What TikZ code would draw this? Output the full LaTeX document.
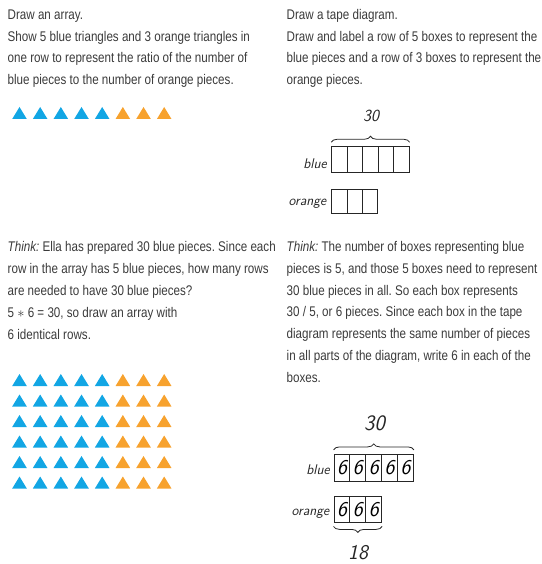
\documentclass[tikz,border=0pt]{standalone}
\usepackage{fontspec}
\setmainfont{Liberation Sans}[FakeStretch=0.83]
\usetikzlibrary{decorations.pathreplacing}
\frenchspacing

\definecolor{triblue}{RGB}{18,166,228}
\definecolor{triorange}{RGB}{247,162,46}
\definecolor{inkgray}{RGB}{58,58,58}

\tikzset{
  txt/.style={anchor=base west, inner sep=0, text=inkgray, font=\fontsize{14}{16}\selectfont},
  hand/.style={inner sep=0, text=black!85, font=\fontsize{14}{14}\selectfont\sffamily\itshape},
  cell/.style={draw=black!85, line width=0.9pt, inner sep=0, minimum width=15.5pt, minimum height=26pt,
    font=\fontsize{21}{21}\selectfont\sffamily\itshape},
  tapebrace/.style={decorate, decoration={brace, amplitude=6pt, raise=4pt}, draw=black!85, line width=0.8pt}
}

\begin{document}
\begin{tikzpicture}[x=1pt, y=-1pt]
  \useasboundingbox (0,0) rectangle (541,564);

  % instructions, one node per printed line
  \foreach \y/\t [count=\i] in {19.5/Draw an array., 41.5/Show 5 blue triangles and 3 orange triangles in,
      63/one row to represent the ratio of the number of, 84.5/blue pieces to the number of orange pieces.} {
    \node[txt] (tl\i) at (7.5,\y) {\t};
  }
  \foreach \y/\t [count=\i] in {19.5/Draw a tape diagram., 41.5/Draw and label a row of 5 boxes to represent the,
      63/blue pieces and a row of 3 boxes to represent the, 84.5/orange pieces.} {
    \node[txt] (tr\i) at (286.5,\y) {\t};
  }
  \foreach \y/\t [count=\i] in {251.5/{\textit{Think:} Ella has prepared 30 blue pieces. Since each},
      273.3/{row in the array has 5 blue pieces, how many rows}, 295.1/are needed to have 30 blue pieces?,
      317.5/{5 $*$ 6 = 30, so draw an array with}, 339/6 identical rows.} {
    \node[txt] (bl\i) at (7.5,\y) {\t};
  }
  \foreach \y/\t [count=\i] in {251.5/{\textit{Think:} The number of boxes representing blue},
      273.3/{pieces is 5, and those 5 boxes need to represent}, 295.1/30 blue pieces in all. So each box represents,
      316.9/{30 / 5, or 6 pieces. Since each box in the tape}, 338.7/diagram represents the same number of pieces,
      360.5/{in all parts of the diagram, write 6 in each of the}, 382.3/boxes.} {
    \node[txt] (br\i) at (286.5,\y) {\t};
  }

  % one row of triangles, then the 6-row array
  \foreach \c in {0,...,7} {
    \pgfmathsetmacro{\x}{19.5+20.67*\c}
    \ifnum\c<5 \def\col{triblue}\else\def\col{triorange}\fi
    \fill[\col] (\x-7.3,119) -- (\x+7.3,119) -- (\x,107) -- cycle;
    \foreach \r in {0,...,5} {
      \fill[\col] (\x-7.3,386+20.5*\r) -- (\x+7.3,386+20.5*\r) -- (\x,374+20.5*\r) -- cycle;
    }
  }

  % first tape diagram (empty boxes)
  \foreach \i in {1,...,5} \node[cell] (bA\i) at ({331.7+15.5*(\i-0.5)},159.7) {};
  \foreach \i in {1,...,3} \node[cell, minimum width=15.3pt, minimum height=24pt] (oA\i) at ({331.7+15.3*(\i-0.5)},201) {};
  \draw[tapebrace] (bA1.north west) -- (bA5.north east);
  \node[hand, font=\fontsize{17}{17}\selectfont\sffamily\itshape] (totA) at (371,116) {30};
  \node[hand, anchor=base east] (labA) at (327,168) {blue};
  \node[hand, anchor=base east] (labB) at (326.5,205) {orange};

  % second tape diagram (6 in each box)
  \foreach \i in {1,...,5} \node[cell, minimum width=15.9pt, minimum height=26.7pt] (bB\i) at ({334+15.9*(\i-0.5)},467.7) {6};
  \foreach \i in {1,...,3} \node[cell, minimum width=15.9pt, minimum height=25.3pt] (oB\i) at ({334+15.9*(\i-0.5)},509.3) {6};
  \draw[tapebrace] (bB1.north west) -- (bB5.north east);
  \draw[tapebrace] (oB3.south east) -- (oB1.south west);
  \node[hand, font=\fontsize{22}{22}\selectfont\sffamily\itshape] (totB) at (374.5,423.3) {30};
  \node[hand, font=\fontsize{21}{21}\selectfont\sffamily\itshape] (totC) at (358,552.5) {18};
  \node[hand, anchor=base east] (labC) at (330,474) {blue};
  \node[hand, anchor=base east] (labD) at (329.5,515) {orange};
\end{tikzpicture}
\end{document}
